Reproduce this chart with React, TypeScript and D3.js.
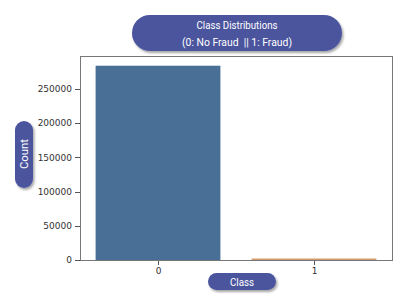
import React from "react";
import * as d3 from "d3";

const categories = ["0", "1"];
const counts = [284315, 492];
const yTicks = [0, 50000, 100000, 150000, 200000, 250000];
const titleLines = ["Class Distributions", "(0: No Fraud\u00a0\u00a0|| 1: Fraud)"];
const xLabel = "Class";
const yLabel = "Count";
const barColors = ["#4a6f96", "#d49a68"];

const W = 396;
const H = 298;
const M = { left: 80, right: 392, top: 56, bottom: 260 };

export default function App() {
  const x = d3.scaleBand<string>().domain(categories).range([M.left, M.right]).paddingInner(0.2).paddingOuter(0.1);
  const y = d3.scaleLinear().domain([0, d3.max(counts)! * 1.05]).range([M.bottom, M.top]);
  const pill = "#4b549e";
  return (
    <svg width={W} height={H} style={{ position: "absolute", left: 0, top: 0, background: "#fff" }}>
      <defs>
        <filter id="sh" x="-20%" y="-30%" width="140%" height="180%">
          <feDropShadow dx="1.5" dy="2" stdDeviation="1.2" floodColor="#000" floodOpacity="0.35" />
        </filter>
      </defs>
      <rect x={M.left + 0.5} y={M.top + 0.5} width={M.right - M.left} height={M.bottom - M.top} fill="none" stroke="#777" strokeWidth={1} />
      {categories.map((c, i) => {
        const h = Math.max(M.bottom - y(counts[i]), 1.5);
        return <rect key={c} x={x(c)} y={M.bottom - h} width={x.bandwidth()} height={h} fill={barColors[i]} />;
      })}
      {yTicks.map((t) => (
        <g key={t}>
          <line x1={M.left - 5} x2={M.left} y1={Math.round(y(t)) + 0.5} y2={Math.round(y(t)) + 0.5} stroke="#555" />
          <text x={M.left - 8} y={y(t)} dy="0.35em" textAnchor="end" fontFamily="DejaVu Sans" fontSize={9} fill="#333">{t}</text>
        </g>
      ))}
      {categories.map((c) => {
        const cx = Math.round(x(c)! + x.bandwidth() / 2) + 0.5;
        return (
          <g key={c}>
            <line x1={cx} x2={cx} y1={M.bottom + 1} y2={M.bottom + 5} stroke="#555" />
            <text x={cx} y={M.bottom + 14} textAnchor="middle" fontFamily="DejaVu Sans" fontSize={9} fill="#333">{c}</text>
          </g>
        );
      })}
      {/* title pill */}
      <rect x={132} y={15} width={210} height={36} rx={18} fill={pill} filter="url(#sh)" />
      <text x={237} y={29} textAnchor="middle" fontFamily="Roboto" fontSize={11.5} fill="#fff" textLength={81} lengthAdjust="spacingAndGlyphs">{titleLines[0]}</text>
      <text x={237} y={46} textAnchor="middle" fontFamily="Roboto" fontSize={11.5} fill="#fff" textLength={110} lengthAdjust="spacingAndGlyphs">{titleLines[1]}</text>
      {/* y label pill */}
      <rect x={15} y={121} width={18} height={67} rx={9} fill={pill} filter="url(#sh)" />
      <text transform="translate(28,154) rotate(-90)" textAnchor="middle" fontFamily="Roboto" fontSize={11.5} fill="#fff" textLength={30} lengthAdjust="spacingAndGlyphs">{yLabel}</text>
      {/* x label pill */}
      <rect x={208} y={273} width={68} height={17} rx={8.5} fill={pill} filter="url(#sh)" />
      <text x={242} y={285.5} textAnchor="middle" fontFamily="Roboto" fontSize={11.5} fill="#fff" textLength={24} lengthAdjust="spacingAndGlyphs">{xLabel}</text>
    </svg>
  );
}
